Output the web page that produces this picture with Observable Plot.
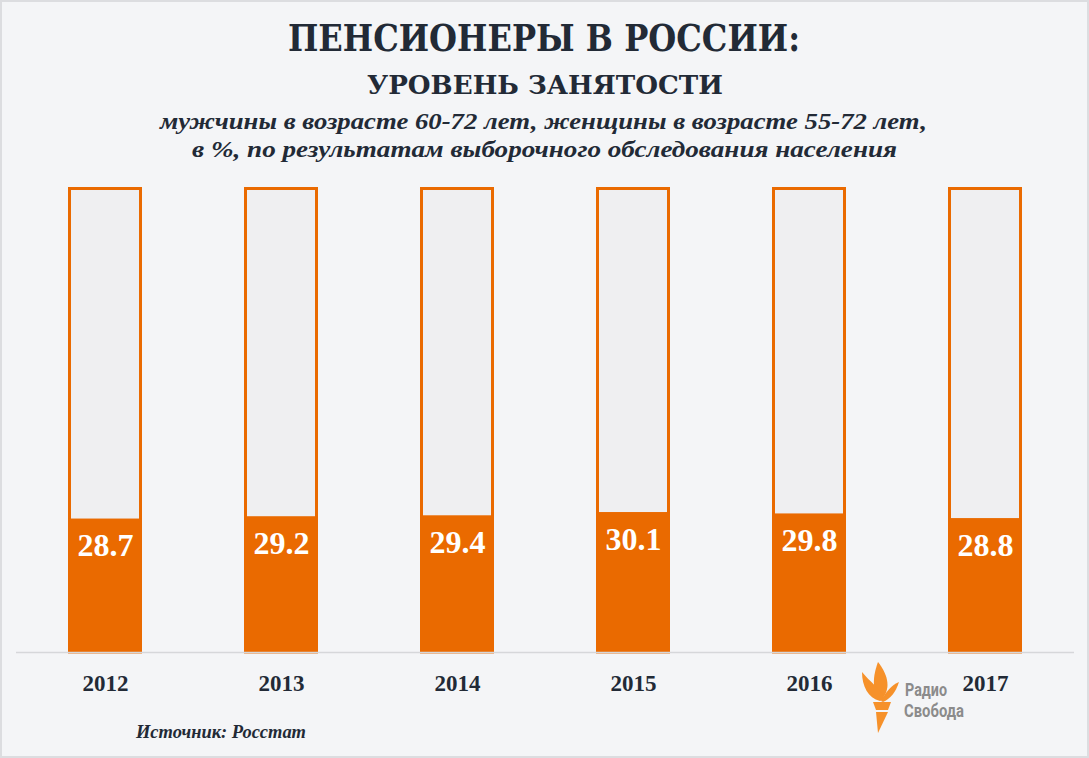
<!DOCTYPE html>
<html>
<head>
<meta charset="utf-8">
<script src="https://cdn.jsdelivr.net/npm/d3@7"></script>
<script src="https://cdn.jsdelivr.net/npm/@observablehq/plot@0.6"></script>
<style>
  html, body { margin: 0; padding: 0; background: #f4f5f7; overflow: hidden; }
  #wrap { position: relative; width: 1089px; height: 758px; background: #f4f5f7; }
  #chart, #overlay { position: absolute; left: 0; top: 0; }
  #border { position: absolute; left: 0; top: 0; width: 1089px; height: 758px; box-sizing: border-box; border: 2px solid #dcdde0; pointer-events: none; }
</style>
</head>
<body>
<div id="wrap">
  <div id="chart"></div>
  <svg id="overlay" width="1089" height="758" xmlns="http://www.w3.org/2000/svg">
    <g fill="#222a36" font-family="'DejaVu Serif', serif" font-weight="bold" text-anchor="start">
      <text x="288" y="51" font-size="37" textLength="512" lengthAdjust="spacingAndGlyphs">ПЕНСИОНЕРЫ В РОССИИ:</text>
      <text x="367" y="94" font-size="26" textLength="356" lengthAdjust="spacingAndGlyphs">УРОВЕНЬ ЗАНЯТОСТИ</text>
    </g>
    <g fill="#222a36" font-family="'Liberation Serif', serif" font-weight="bold" font-style="italic" text-anchor="start">
      <text x="160" y="129" font-size="22.5" textLength="767" lengthAdjust="spacingAndGlyphs">мужчины в возрасте 60-72 лет, женщины в возрасте 55-72 лет,</text>
      <text x="192" y="157" font-size="22.5" textLength="705" lengthAdjust="spacingAndGlyphs">в %, по результатам выборочного обследования населения</text>
      <text x="136" y="738" font-size="18.5" textLength="170" lengthAdjust="spacingAndGlyphs">Источник: Росстат</text>
    </g>
    <g fill="#f6912a">
      <path d="M881,700 C871,690 873,676 878,662 C889,676 891,690 881,700 Z"/>
      <path d="M880,701 C868,698 862,686 862,672 C870,682 880,688 885,699 Z"/>
      <path d="M881,701 C886,691 892,685 899,682 C896,692 890,699 883,702 Z"/>
      <path d="M873,702 L891,702 L888,710 L876,710 Z"/>
      <path d="M876,712 L888,712 L878,733 Z"/>
    </g>
    <g fill="#8b8b8b" font-family="Roboto, sans-serif" font-weight="bold">
      <text x="905" y="696" font-size="18.5" textLength="42" lengthAdjust="spacingAndGlyphs">Радио</text>
      <text x="904" y="717" font-size="18.5" textLength="60" lengthAdjust="spacingAndGlyphs">Свобода</text>
    </g>
  </svg>
  <div id="border"></div>
</div>
<script>
const years = ["2012", "2013", "2014", "2015", "2016", "2017"];
const values = [28.7, 29.2, 29.4, 30.1, 29.8, 28.8];
const fullShare = 100;

const orange = "#ea6a00";
const data = years.map((year, i) => ({year, value: values[i], full: fullShare}));

const chart = Plot.plot({
  width: 1089,
  height: 758,
  marginTop: 187,
  marginBottom: 106,
  marginLeft: 16,
  marginRight: 15,
  style: {background: "transparent", overflow: "visible"},
  x: {type: "band", domain: years, paddingInner: 0.58, paddingOuter: 0.29, axis: null},
  y: {domain: [0, 100], axis: null},
  marks: [
    Plot.barY(data, {x: "year", y: "full", fill: "#efeff1", stroke: orange, strokeWidth: 3, insetLeft: 1.5, insetRight: 1.5, insetTop: 1.5}),
    Plot.barY(data, {x: "year", y: "value", fill: orange}),
    Plot.ruleY([0], {stroke: "#d6d7da", strokeWidth: 1.5}),
    Plot.text(data, {x: "year", y: "value", text: d => d.value.toFixed(1), dy: 27, fill: "white",
      fontSize: 32, fontWeight: "bold", fontFamily: "'Liberation Serif', serif", lineAnchor: "middle"}),
    Plot.text(data, {x: "year", text: "year", frameAnchor: "bottom", dy: 31, fill: "#222a36",
      fontSize: 23, fontWeight: "bold", fontFamily: "'Liberation Serif', serif", lineAnchor: "middle"})
  ]
});
document.getElementById("chart").appendChild(chart);
</script>
</body>
</html>
